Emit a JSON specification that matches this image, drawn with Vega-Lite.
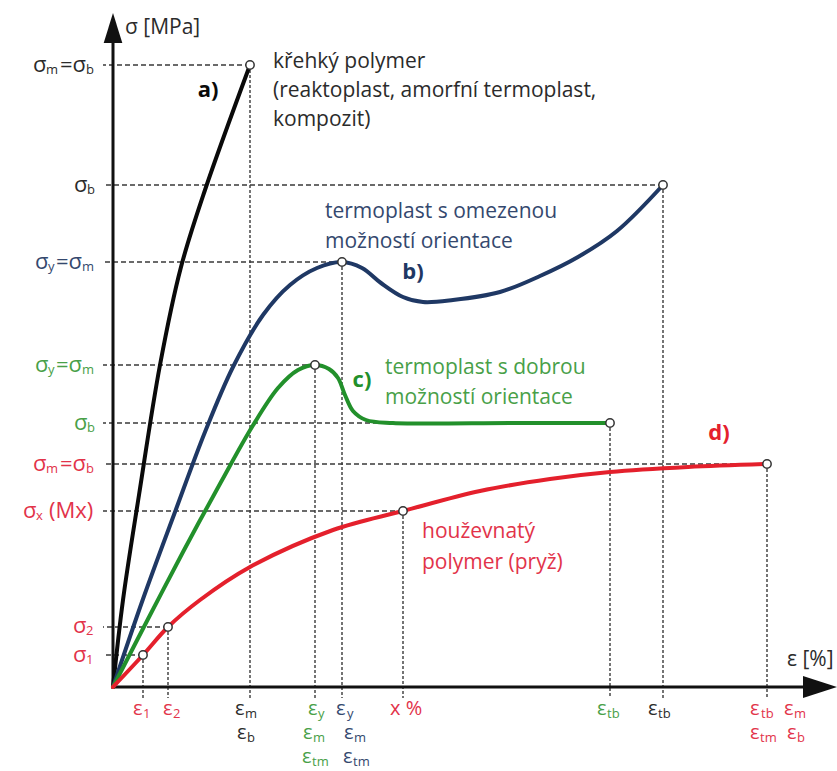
{
  "$schema": "https://vega.github.io/schema/vega-lite/v6.json",
  "width": 722,
  "height": 677,
  "autosize": "none",
  "padding": {"left": 113, "top": 10, "right": 2, "bottom": 84},
  "background": "white",
  "config": {"view": {"stroke": null}, "text": {"font": "Open Sans"}},
  "datasets": {
    "curves": [
      {"c": "a", "x": 0, "y": 0}, {"c": "a", "x": 10, "y": 87}, {"c": "a", "x": 26, "y": 192}, {"c": "a", "x": 47, "y": 322}, {"c": "a", "x": 68, "y": 420}, {"c": "a", "x": 92, "y": 497}, {"c": "a", "x": 137, "y": 622},
      {"c": "b", "x": 0, "y": 0}, {"c": "b", "x": 30, "y": 88}, {"c": "b", "x": 62, "y": 175}, {"c": "b", "x": 92, "y": 255}, {"c": "b", "x": 120, "y": 320}, {"c": "b", "x": 150, "y": 372}, {"c": "b", "x": 177, "y": 402}, {"c": "b", "x": 204, "y": 419}, {"c": "b", "x": 229, "y": 425}, {"c": "b", "x": 249, "y": 419}, {"c": "b", "x": 268, "y": 404}, {"c": "b", "x": 290, "y": 390}, {"c": "b", "x": 310, "y": 385}, {"c": "b", "x": 340, "y": 387}, {"c": "b", "x": 387, "y": 395}, {"c": "b", "x": 427, "y": 411}, {"c": "b", "x": 465, "y": 430}, {"c": "b", "x": 504, "y": 456}, {"c": "b", "x": 550, "y": 502},
      {"c": "c", "x": 0, "y": 0}, {"c": "c", "x": 35, "y": 68}, {"c": "c", "x": 70, "y": 135}, {"c": "c", "x": 108, "y": 205}, {"c": "c", "x": 139, "y": 260}, {"c": "c", "x": 165, "y": 299}, {"c": "c", "x": 185, "y": 317}, {"c": "c", "x": 202, "y": 322}, {"c": "c", "x": 216, "y": 318}, {"c": "c", "x": 225, "y": 309}, {"c": "c", "x": 232, "y": 292}, {"c": "c", "x": 240, "y": 276}, {"c": "c", "x": 253, "y": 267}, {"c": "c", "x": 280, "y": 264}, {"c": "c", "x": 400, "y": 264}, {"c": "c", "x": 497, "y": 264},
      {"c": "d", "x": 0, "y": 0}, {"c": "d", "x": 30, "y": 32}, {"c": "d", "x": 55, "y": 60}, {"c": "d", "x": 87, "y": 87}, {"c": "d", "x": 137, "y": 120}, {"c": "d", "x": 220, "y": 157}, {"c": "d", "x": 290, "y": 176}, {"c": "d", "x": 367, "y": 196}, {"c": "d", "x": 437, "y": 208}, {"c": "d", "x": 497, "y": 215}, {"c": "d", "x": 575, "y": 220}, {"c": "d", "x": 654, "y": 223}
    ],
    "points": [
      {"x": 137, "y": 622}, {"x": 550, "y": 502}, {"x": 229, "y": 425}, {"x": 202, "y": 322}, {"x": 497, "y": 264}, {"x": 654, "y": 223}, {"x": 290, "y": 176}, {"x": 55, "y": 60}, {"x": 30, "y": 32}
    ],
    "axes": [
      {"x": 0, "y": 0, "x2": 0, "y2": 646},
      {"x": 0, "y": 0, "x2": 692, "y2": 0}
    ],
    "ann": [
      {"t": "křehký polymer", "x": 160, "y": 625, "c": "tk"},
      {"t": "(reaktoplast, amorfní termoplast,", "x": 160, "y": 596, "c": "tk"},
      {"t": "kompozit)", "x": 160, "y": 567, "c": "tk"},
      {"t": "termoplast s omezenou", "x": 212, "y": 475, "c": "tb"},
      {"t": "možností orientace", "x": 212, "y": 445, "c": "tb"},
      {"t": "termoplast s dobrou", "x": 272, "y": 319, "c": "tg"},
      {"t": "možností orientace", "x": 272, "y": 289, "c": "tg"},
      {"t": "houževnatý", "x": 309, "y": 155, "c": "tr"},
      {"t": "polymer (pryž)", "x": 309, "y": 124, "c": "tr"},
      {"t": "σ [MPa]", "x": 12, "y": 659, "c": "tk"},
      {"t": "ε [%]", "x": 674, "y": 27, "c": "tk"}
    ],
    "bold": [
      {"t": "a)", "x": 95, "y": 597, "c": "a"},
      {"t": "b)", "x": 300, "y": 415, "c": "b"},
      {"t": "c)", "x": 249, "y": 307, "c": "c"},
      {"t": "d)", "x": 606, "y": 254, "c": "d"}
    ],
    "sym": [
      {"t": "σ", "x": -80, "y": 622, "c": "tk"}, {"t": "=σ", "x": -53, "y": 622, "c": "tk"},
      {"t": "σ", "x": -39, "y": 502, "c": "tk"},
      {"t": "σ", "x": -78, "y": 425, "c": "tb"}, {"t": "=σ", "x": -57, "y": 425, "c": "tb"},
      {"t": "σ", "x": -78, "y": 322, "c": "tg"}, {"t": "=σ", "x": -57, "y": 322, "c": "tg"},
      {"t": "σ", "x": -39, "y": 264, "c": "tg"},
      {"t": "σ", "x": -80, "y": 223, "c": "tr"}, {"t": "=σ", "x": -53, "y": 223, "c": "tr"},
      {"t": "σ", "x": -90, "y": 176, "c": "tr"}, {"t": "(Mx)", "x": -64, "y": 176, "c": "tr"},
      {"t": "σ", "x": -40, "y": 61, "c": "tr"},
      {"t": "σ", "x": -40, "y": 32, "c": "tr"}
    ],
    "xsym": [
      {"t": "ε", "x": 20, "y": -22, "c": "tr"}, {"t": "ε", "x": 50, "y": -22, "c": "tr"},
      {"t": "ε", "x": 122, "y": -22, "c": "tk"}, {"t": "ε", "x": 124, "y": -46, "c": "tk"},
      {"t": "ε", "x": 195, "y": -22, "c": "tg"}, {"t": "ε", "x": 190, "y": -46, "c": "tg"}, {"t": "ε", "x": 189, "y": -70, "c": "tg"},
      {"t": "ε", "x": 223, "y": -22, "c": "tb"}, {"t": "ε", "x": 231, "y": -46, "c": "tb"}, {"t": "ε", "x": 230, "y": -70, "c": "tb"},
      {"t": "ε", "x": 484, "y": -22, "c": "tg"}, {"t": "ε", "x": 535, "y": -22, "c": "tk"},
      {"t": "ε", "x": 637, "y": -22, "c": "tr"}, {"t": "ε", "x": 671, "y": -22, "c": "tr"},
      {"t": "ε", "x": 637, "y": -46, "c": "tr"}, {"t": "ε", "x": 674, "y": -46, "c": "tr"},
      {"t": "x %", "x": 277, "y": -22, "c": "tr"}
    ],
    "sub": [
      {"t": "m", "x": -67, "y": 622, "c": "tk"}, {"t": "b", "x": -27, "y": 622, "c": "tk"},
      {"t": "b", "x": -26, "y": 502, "c": "tk"},
      {"t": "y", "x": -65, "y": 425, "c": "tb"}, {"t": "m", "x": -31, "y": 425, "c": "tb"},
      {"t": "y", "x": -65, "y": 322, "c": "tg"}, {"t": "m", "x": -31, "y": 322, "c": "tg"},
      {"t": "b", "x": -26, "y": 264, "c": "tg"},
      {"t": "m", "x": -67, "y": 223, "c": "tr"}, {"t": "b", "x": -27, "y": 223, "c": "tr"},
      {"t": "x", "x": -77, "y": 176, "c": "tr"},
      {"t": "2", "x": -27, "y": 61, "c": "tr"}, {"t": "1", "x": -27, "y": 32, "c": "tr"},
      {"t": "1", "x": 30, "y": -22, "c": "tr"}, {"t": "2", "x": 60, "y": -22, "c": "tr"},
      {"t": "m", "x": 132, "y": -22, "c": "tk"}, {"t": "b", "x": 134, "y": -46, "c": "tk"},
      {"t": "y", "x": 205, "y": -22, "c": "tg"}, {"t": "m", "x": 200, "y": -46, "c": "tg"}, {"t": "tm", "x": 199, "y": -70, "c": "tg"},
      {"t": "y", "x": 234, "y": -22, "c": "tb"}, {"t": "m", "x": 241, "y": -46, "c": "tb"}, {"t": "tm", "x": 240, "y": -70, "c": "tb"},
      {"t": "tb", "x": 494, "y": -22, "c": "tg"}, {"t": "tb", "x": 545, "y": -22, "c": "tk"},
      {"t": "tb", "x": 648, "y": -22, "c": "tr"}, {"t": "m", "x": 681, "y": -22, "c": "tr"},
      {"t": "tm", "x": 647, "y": -46, "c": "tr"}, {"t": "b", "x": 684, "y": -46, "c": "tr"}
    ]
  },
  "layer": [
    {
      "data": {"name": "points"},
      "mark": {"type": "rule", "strokeDash": [5, 3], "strokeWidth": 1.3, "color": "#3a3a3a"},
      "encoding": {
        "x": {"field": "x", "type": "quantitative", "scale": {"domain": [0, 722], "nice": false, "zero": false}, "axis": null},
        "x2": {"datum": -10},
        "y": {"field": "y", "type": "quantitative", "scale": {"domain": [0, 677], "nice": false, "zero": false}, "axis": null}
      }
    },
    {
      "data": {"name": "points"},
      "mark": {"type": "rule", "strokeDash": [3, 2], "strokeWidth": 1.4, "color": "#3a3a3a"},
      "encoding": {
        "x": {"field": "x", "type": "quantitative", "scale": {"domain": [0, 722], "nice": false, "zero": false}, "axis": null},
        "y": {"field": "y", "type": "quantitative", "scale": {"domain": [0, 677], "nice": false, "zero": false}, "axis": null},
        "y2": {"datum": -11}
      }
    },
    {
      "data": {"name": "axes"},
      "mark": {"type": "rule", "strokeWidth": 3, "color": "#111111"},
      "encoding": {
        "x": {"field": "x", "type": "quantitative", "scale": {"domain": [0, 722], "nice": false, "zero": false}, "axis": null},
        "y": {"field": "y", "type": "quantitative", "scale": {"domain": [0, 677], "nice": false, "zero": false}, "axis": null},
        "x2": {"field": "x2"},
        "y2": {"field": "y2"}
      }
    },
    {
      "data": {"values": [{"x": 0, "y": 659}]},
      "mark": {"type": "point", "shape": "M0,-1L0.62,1L-0.62,1Z", "size": 900, "filled": true, "opacity": 1, "color": "#111111"},
      "encoding": {
        "x": {"field": "x", "type": "quantitative", "scale": {"domain": [0, 722], "nice": false, "zero": false}, "axis": null},
        "y": {"field": "y", "type": "quantitative", "scale": {"domain": [0, 677], "nice": false, "zero": false}, "axis": null}
      }
    },
    {
      "data": {"values": [{"x": 707, "y": 0}]},
      "mark": {"type": "point", "shape": "M1,0L-1,-0.65L-1,0.65Z", "size": 1156, "filled": true, "opacity": 1, "color": "#111111"},
      "encoding": {
        "x": {"field": "x", "type": "quantitative", "scale": {"domain": [0, 722], "nice": false, "zero": false}, "axis": null},
        "y": {"field": "y", "type": "quantitative", "scale": {"domain": [0, 677], "nice": false, "zero": false}, "axis": null}
      }
    },
    {
      "data": {"name": "curves"},
      "mark": {"type": "line", "interpolate": "catmull-rom", "strokeWidth": 4, "strokeCap": "round"},
      "encoding": {
        "x": {"field": "x", "type": "quantitative", "scale": {"domain": [0, 722], "nice": false, "zero": false}, "axis": null},
        "y": {"field": "y", "type": "quantitative", "scale": {"domain": [0, 677], "nice": false, "zero": false}, "axis": null},
        "order": {"field": "x", "type": "quantitative"},
        "color": {"field": "c", "type": "nominal", "legend": null, "scale": {"domain": ["a", "b", "c", "d", "tk", "tb", "tg", "tr"], "range": ["#0a0a0a", "#1f3864", "#22902b", "#e4202c", "#2b2b2b", "#34486e", "#48a048", "#e2334a"]}}
      }
    },
    {
      "data": {"name": "points"},
      "mark": {"type": "point", "shape": "circle", "size": 70, "filled": true, "fill": "white", "stroke": "#333333", "strokeWidth": 1.5, "opacity": 1},
      "encoding": {
        "x": {"field": "x", "type": "quantitative", "scale": {"domain": [0, 722], "nice": false, "zero": false}, "axis": null},
        "y": {"field": "y", "type": "quantitative", "scale": {"domain": [0, 677], "nice": false, "zero": false}, "axis": null}
      }
    },
    {
      "data": {"name": "ann"},
      "mark": {"type": "text", "align": "left", "baseline": "middle", "fontSize": 21},
      "encoding": {
        "x": {"field": "x", "type": "quantitative", "scale": {"domain": [0, 722], "nice": false, "zero": false}, "axis": null},
        "y": {"field": "y", "type": "quantitative", "scale": {"domain": [0, 677], "nice": false, "zero": false}, "axis": null},
        "text": {"field": "t"},
        "color": {"field": "c", "type": "nominal", "legend": null, "scale": {"domain": ["a", "b", "c", "d", "tk", "tb", "tg", "tr"], "range": ["#0a0a0a", "#1f3864", "#22902b", "#e4202c", "#2b2b2b", "#34486e", "#48a048", "#e2334a"]}}
      }
    },
    {
      "data": {"name": "bold"},
      "mark": {"type": "text", "align": "center", "baseline": "middle", "fontSize": 22, "fontWeight": "bold"},
      "encoding": {
        "x": {"field": "x", "type": "quantitative", "scale": {"domain": [0, 722], "nice": false, "zero": false}, "axis": null},
        "y": {"field": "y", "type": "quantitative", "scale": {"domain": [0, 677], "nice": false, "zero": false}, "axis": null},
        "text": {"field": "t"},
        "color": {"field": "c", "type": "nominal", "legend": null, "scale": {"domain": ["a", "b", "c", "d", "tk", "tb", "tg", "tr"], "range": ["#0a0a0a", "#1f3864", "#22902b", "#e4202c", "#2b2b2b", "#34486e", "#48a048", "#e2334a"]}}
      }
    },
    {
      "data": {"name": "sym"},
      "mark": {"type": "text", "align": "left", "baseline": "middle", "fontSize": 22},
      "encoding": {
        "x": {"field": "x", "type": "quantitative", "scale": {"domain": [0, 722], "nice": false, "zero": false}, "axis": null},
        "y": {"field": "y", "type": "quantitative", "scale": {"domain": [0, 677], "nice": false, "zero": false}, "axis": null},
        "text": {"field": "t"},
        "color": {"field": "c", "type": "nominal", "legend": null, "scale": {"domain": ["a", "b", "c", "d", "tk", "tb", "tg", "tr"], "range": ["#0a0a0a", "#1f3864", "#22902b", "#e4202c", "#2b2b2b", "#34486e", "#48a048", "#e2334a"]}}
      }
    },
    {
      "data": {"name": "xsym"},
      "mark": {"type": "text", "align": "left", "baseline": "middle", "fontSize": 20},
      "encoding": {
        "x": {"field": "x", "type": "quantitative", "scale": {"domain": [0, 722], "nice": false, "zero": false}, "axis": null},
        "y": {"field": "y", "type": "quantitative", "scale": {"domain": [0, 677], "nice": false, "zero": false}, "axis": null},
        "text": {"field": "t"},
        "color": {"field": "c", "type": "nominal", "legend": null, "scale": {"domain": ["a", "b", "c", "d", "tk", "tb", "tg", "tr"], "range": ["#0a0a0a", "#1f3864", "#22902b", "#e4202c", "#2b2b2b", "#34486e", "#48a048", "#e2334a"]}}
      }
    },
    {
      "data": {"name": "sub"},
      "mark": {"type": "text", "align": "left", "baseline": "middle", "fontSize": 13, "dy": 5},
      "encoding": {
        "x": {"field": "x", "type": "quantitative", "scale": {"domain": [0, 722], "nice": false, "zero": false}, "axis": null},
        "y": {"field": "y", "type": "quantitative", "scale": {"domain": [0, 677], "nice": false, "zero": false}, "axis": null},
        "text": {"field": "t"},
        "color": {"field": "c", "type": "nominal", "legend": null, "scale": {"domain": ["a", "b", "c", "d", "tk", "tb", "tg", "tr"], "range": ["#0a0a0a", "#1f3864", "#22902b", "#e4202c", "#2b2b2b", "#34486e", "#48a048", "#e2334a"]}}
      }
    }
  ]
}
